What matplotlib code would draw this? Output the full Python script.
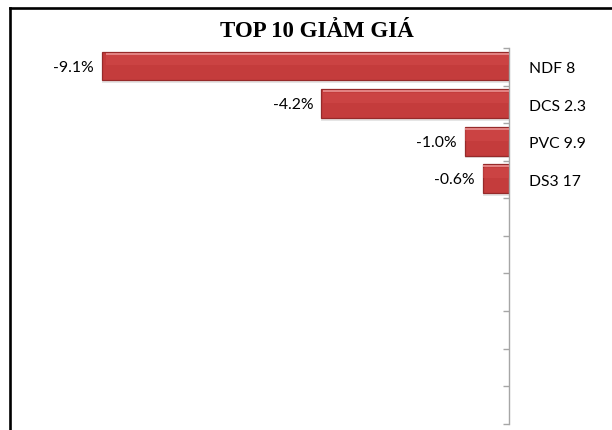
import matplotlib
matplotlib.use("Agg")
import matplotlib.pyplot as plt
from matplotlib.lines import Line2D
import numpy as np

title = "TOP 10 GIẢM GIÁ"
categories = ["NDF 8", "DCS 2.3", "PVC 9.9", "DS3 17", "", "", "", "", "", ""]
values = [-9.1, -4.2, -1.0, -0.6]
value_labels = ["-9.1%", "-4.2%", "-1.0%", "-0.6%"]

W, H = 612, 431
fig = plt.figure(figsize=(W / 100, H / 100), dpi=100)
fig.patch.set_facecolor("white")

ax_left, ax_right = 62 / W, 509.4 / W
ax_top, ax_bot = 1 - 49 / H, 1 - 424.7 / H
ax = fig.add_axes([ax_left, ax_bot, ax_right - ax_left, ax_top - ax_bot])

n = len(categories)
ypos = np.arange(len(values))
bh = 0.77

# soft shadow
ax.barh(ypos + 0.05, values, height=bh, left=0, color="#9a9a9a", alpha=0.25, zorder=1)
# main bar
ax.barh(ypos - 0.02, values, height=bh, color="#C43C3C", edgecolor="#962A2A",
        linewidth=0.9, zorder=2)
# lighter upper body
ax.barh(ypos - 0.02 - bh * 0.2, [v * 0.99 for v in values], height=bh * 0.36,
        color="#D04848", linewidth=0, zorder=3, alpha=0.6)
# thin top highlight
ax.barh(ypos - 0.02 - bh * 0.43, [v * 0.99 for v in values], height=bh * 0.07,
        color="#E68A8A", linewidth=0, zorder=3, alpha=0.9)

for y, v, lab in zip(ypos, values, value_labels):
    ax.annotate(lab, xy=(v, y), xytext=(-6, 0), textcoords="offset points",
                ha="right", va="center", fontsize=11.3, family="Lato", color="black")

ax.set_xlim(-10, 0)
ax.set_ylim(n - 0.5, -0.5)

for s in ["left", "top", "bottom"]:
    ax.spines[s].set_visible(False)
ax.spines["right"].set_color("#A6A6A6")
ax.spines["right"].set_linewidth(1.0)
ax.xaxis.set_visible(False)

ax.yaxis.tick_right()
ax.set_yticks(np.arange(-0.5, n, 1.0))
ax.set_yticklabels([])
ax.tick_params(axis="y", which="major", direction="in", length=4, width=1, color="#A6A6A6")
ax.set_yticks(np.arange(n), minor=True)
ax.set_yticklabels(categories, minor=True, fontsize=11.3, family="Lato")
ax.tick_params(axis="y", which="minor", length=0, pad=14)

fig.text(317 / W, 1 - 37 / H, title, ha="center", va="baseline",
         fontsize=16.5, fontweight="bold", family="Liberation Serif")

# chart border (left and top visible)
lw = 1.9
fig.add_artist(Line2D([10 / W, 10 / W], [0, 1 - 8.5 / H], color="black", linewidth=lw,
                      transform=fig.transFigure, solid_capstyle="projecting"))
fig.add_artist(Line2D([10 / W, 1.0], [1 - 8.5 / H, 1 - 8.5 / H], color="black", linewidth=lw,
                      transform=fig.transFigure, solid_capstyle="projecting"))

fig.savefig("out.png", dpi=100, facecolor="white")
